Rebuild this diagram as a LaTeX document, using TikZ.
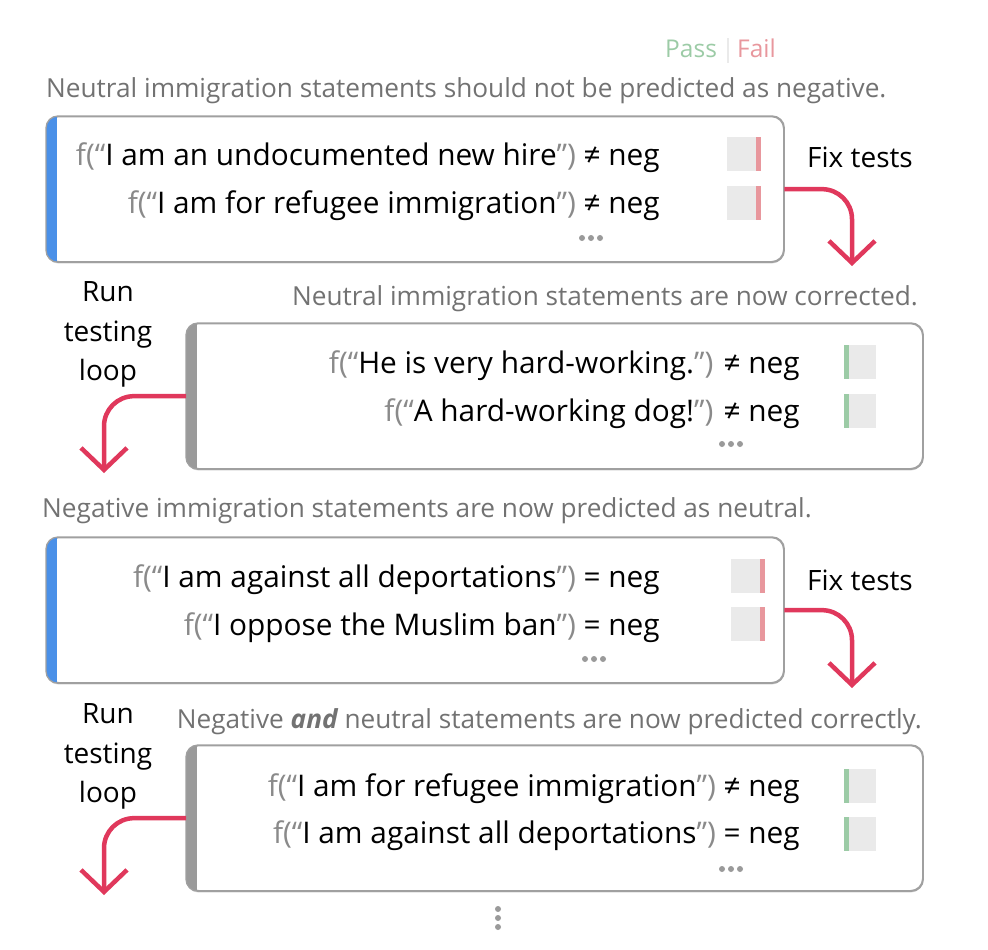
\documentclass[tikz,border=0pt]{standalone}
\usepackage{fontspec}
\setmainfont{Open Sans}
\usetikzlibrary{arrows.meta,shadows}
\definecolor{arrowred}{HTML}{E0385C}
\definecolor{barblue}{HTML}{4A90E8}
\definecolor{bargray}{HTML}{9A9A9A}
\definecolor{txtgray}{HTML}{8A8A8A}
\definecolor{capgray}{HTML}{727272}
\definecolor{passg}{HTML}{9CCBA6}
\definecolor{failr}{HTML}{E8979D}
\definecolor{indbg}{HTML}{EAEAEA}
\definecolor{boxline}{HTML}{A0A0A0}
\definecolor{dotgray}{HTML}{9A9A9A}
\newcommand\qo{\textcolor{txtgray}{f(“}}
\newcommand\qc{\textcolor{txtgray}{”)}}
\tikzset{
  testbox/.style={draw=boxline, line width=1.3pt, rounded corners=12pt, fill=white,
    drop shadow={shadow xshift=0pt, shadow yshift=-2pt, opacity=0.25}, inner sep=0pt,
    minimum height=145pt, anchor=north west},
  rowtext/.style={anchor=base east, inner sep=0pt, font=\fontsize{29.8}{30}\selectfont},
  captext/.style={inner sep=0pt, text=capgray, font=\fontsize{26.2}{26}\selectfont},
  labeltext/.style={inner sep=0pt, anchor=base, text=black, font=\fontsize{28}{28}\selectfont},
  flow/.style={draw=arrowred, line width=4.5pt, rounded corners=30pt,
    -{Straight Barb[length=22pt,width=46pt]}},
  ind/.style={fill=indbg, draw=none},
  dotc/.style={fill=dotgray, draw=none},
}
\newcommand\leftbar[2]{%
  \begin{scope}
    \clip[rounded corners=12pt] (#1.north west) rectangle (#1.south east);
    \fill[#2] (#1.north west) rectangle ([xshift=11pt]#1.south west);
  \end{scope}
  \draw[draw=boxline, line width=1.3pt, rounded corners=12pt] (#1.north west) rectangle (#1.south east);}
\newcommand\hdots[3]{%
  \fill[dotc] (#1-9,#2) circle (3pt) (#1,#2) circle (3pt) (#1+9,#2) circle (3pt);}
\begin{document}
\begin{tikzpicture}[x=1pt,y=-1pt]
\useasboundingbox (0,0) rectangle (988,950);

% legend
\node[inner sep=0pt, anchor=base west, text=passg, font=\fontsize{24.5}{24}\selectfont] (pass) at (665,58) {Pass};
\node[inner sep=0pt, anchor=base west, text=failr, font=\fontsize{24.5}{24}\selectfont] (fail) at (737,58) {Fail};
\draw[draw=indbg, line width=1.5pt] (728,38) -- (728,63);

% box 1
\node[captext, anchor=base west] (c1) at (46,97) {Neutral immigration statements should not be predicted as negative.};
\node[testbox, minimum width=737pt] (b1) at (46,116) {};
\leftbar{b1}{barblue}
\node[rowtext] (r11) at (660,165) {\qo I am an undocumented new hire\qc{} ≠ neg};
\node[rowtext] (r12) at (660,213) {\qo I am for refugee immigration\qc{} ≠ neg};
\fill[ind] (727,137) rectangle (761,171); \fill[failr] (756,137) rectangle (761,171);
\fill[ind] (727,186) rectangle (761,220); \fill[failr] (756,186) rectangle (761,220);
\hdots{591}{238}{}
\node[labeltext, anchor=base west] (fx1) at (807,167) {Fix tests};
\coordinate (t1) at (852,266);
\draw[flow] (b1.east) -| (t1);

% box 2
\node[captext, anchor=base east] (c2) at (918,305) {Neutral immigration statements are now corrected.};
\node[testbox, minimum width=736pt] (b2) at (186,323) {};
\leftbar{b2}{bargray}
\node[rowtext] (r21) at (800,373) {\qo He is very hard-working.\qc{} ≠ neg};
\node[rowtext] (r22) at (800,421) {\qo A hard-working dog!\qc{} ≠ neg};
\fill[ind] (844,345) rectangle (876,379); \fill[passg] (844,345) rectangle (849,379);
\fill[ind] (844,394) rectangle (876,428); \fill[passg] (844,394) rectangle (849,428);
\hdots{731}{444}{}
\node[labeltext] (rl1) at (108,301) {Run};
\node[labeltext] (rl2) at (108,341) {testing};
\node[labeltext] (rl3) at (108,380) {loop};
\coordinate (t2) at (104,473);
\draw[flow] (b2.west) -| (t2);

% box 3
\node[captext, anchor=base west] (c3) at (42,517) {Negative immigration statements are now predicted as neutral.};
\node[testbox, minimum width=737pt] (b3) at (46,537) {};
\leftbar{b3}{barblue}
\node[rowtext] (r31) at (660,587) {\qo I am against all deportations\qc{} = neg};
\node[rowtext] (r32) at (660,635) {\qo I oppose the Muslim ban\qc{} = neg};
\fill[ind] (731,559) rectangle (765,593); \fill[failr] (760,559) rectangle (765,593);
\fill[ind] (731,607) rectangle (765,641); \fill[failr] (760,607) rectangle (765,641);
\hdots{594}{659}{}
\node[labeltext, anchor=base west] (fx2) at (807,590) {Fix tests};
\coordinate (t3) at (852,688);
\draw[flow] (b3.east) -| (t3);

% box 4
\node[captext, anchor=base east] (c4) at (922,728) {Negative {\bfseries\itshape and} neutral statements are now predicted correctly.};
\node[testbox, minimum width=736pt] (b4) at (186,745) {};
\leftbar{b4}{bargray}
\node[rowtext] (r41) at (800,796) {\qo I am for refugee immigration\qc{} ≠ neg};
\node[rowtext] (r42) at (800,843) {\qo I am against all deportations\qc{} = neg};
\fill[ind] (844,769) rectangle (876,803); \fill[passg] (844,769) rectangle (849,803);
\fill[ind] (844,817) rectangle (876,851); \fill[passg] (844,817) rectangle (849,851);
\hdots{731}{869}{}
\node[labeltext] (rl4) at (108,723) {Run};
\node[labeltext] (rl5) at (108,763) {testing};
\node[labeltext] (rl6) at (108,802) {loop};
\coordinate (t4) at (104,895);
\draw[flow] (b4.west) -| (t4);

% vertical dots
\fill[dotc] (498,909) circle (3pt) (498,918) circle (3pt) (498,927) circle (3pt);
\end{tikzpicture}
\end{document}
